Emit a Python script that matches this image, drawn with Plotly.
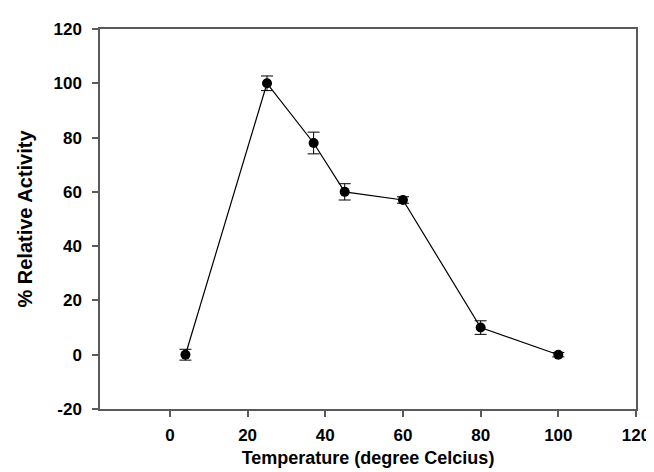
import plotly.graph_objects as go

temperature = [4, 25, 37, 45, 60, 80, 100]
activity = [0, 100, 78, 60, 57, 10, 0]
error = [2, 2.7, 4, 3, 1.2, 2.5, 0.8]
x_ticks = [0, 20, 40, 60, 80, 100, 120]
y_ticks = [-20, 0, 20, 40, 60, 80, 100, 120]

fig = go.Figure()
fig.add_trace(go.Scatter(
    x=temperature, y=activity, mode="lines+markers",
    line=dict(color="black", width=1.2),
    marker=dict(color="black", size=10),
    error_y=dict(type="data", array=error, visible=True, color="black", thickness=1, width=6),
    showlegend=False,
))

fam = "Liberation Sans, Arial, sans-serif"
tick_font = dict(family=fam, size=17, color="black", weight="bold")
fig.update_layout(
    width=654, height=472,
    margin=dict(l=92, r=18, t=20, b=71),
    paper_bgcolor="white", plot_bgcolor="white",
    font=dict(family=fam, color="black"),
    xaxis=dict(
        range=[-18, 120], tickvals=x_ticks, ticktext=[str(v) for v in x_ticks],
        showgrid=False, zeroline=False, showline=True, linecolor="#5a5a5a", linewidth=1.5,
        mirror=True,
        ticks="outside", ticklen=6, tickcolor="#5a5a5a", tickwidth=1.5,
        tickfont=tick_font, ticklabelstandoff=4,
        title=dict(text="Temperature (degree Celcius)", standoff=7,
                   font=dict(family=fam, size=18, color="black", weight="bold")),
    ),
    yaxis=dict(
        range=[-20, 120], tickvals=y_ticks, ticktext=[str(v) for v in y_ticks],
        showgrid=False, zeroline=False, showline=True, linecolor="#5a5a5a", linewidth=1.5,
        mirror=True,
        ticks="outside", ticklen=6, tickcolor="#5a5a5a", tickwidth=1.5,
        tickfont=tick_font, ticklabelstandoff=7,
        title=dict(text="% Relative Activity", standoff=15,
                   font=dict(family=fam, size=20, color="black", weight="bold")),
    ),
)

fig.write_html("out.html")
